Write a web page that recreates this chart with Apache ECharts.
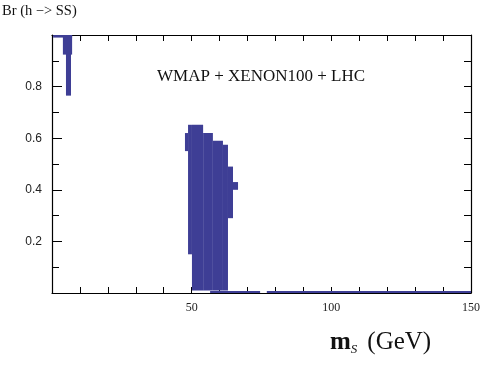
<!DOCTYPE html>
<html>
<head>
<meta charset="utf-8">
<script src="https://cdn.jsdelivr.net/npm/echarts@6/dist/echarts.min.js"></script>
<style>
  html, body { margin: 0; padding: 0; background: #fff; }
  #chart { width: 484px; height: 365px; }
</style>
</head>
<body>
<div id="chart"></div>
<script>
// filled regions of the scan (m_S in GeV, Br)
var xFrom = [0.4, 3.9, 5.0, 47.6, 48.7, 50.1, 54.1, 57.6, 61.2, 63.0, 64.8, 56.6, 76.9];
var xTo   = [7.2, 7.2, 6.8, 48.7, 50.1, 54.1, 57.6, 61.2, 63.0, 64.8, 66.6, 74.5, 150];
var yFrom = [0.99, 0.924, 0.765, 0.55, 0.15, 0.01, 0.01, 0.01, 0.01, 0.29, 0.40, 0.0, 0.0];
var yTo   = [1.0, 1.0, 1.0, 0.62, 0.652, 0.652, 0.62, 0.59, 0.575, 0.49, 0.43, 0.008, 0.008];

var xTicks = [50, 100, 150];
var yTicks = [0.2, 0.4, 0.6, 0.8];

(function () {
  var dom = document.getElementById('chart');
  var myChart = echarts.init(dom);

  var blocks = [];
  for (var i = 0; i < xFrom.length; i++) {
    blocks.push([xFrom[i], xTo[i], yFrom[i], yTo[i]]);
  }

  var serif = 'Liberation Serif';
  var sans = 'Liberation Sans';
  var line = { color: '#000', width: 1.2 };

  var option = {
    backgroundColor: '#fff',
    animation: false,
    grid: { left: 52, right: 13, top: 35, bottom: 72 },
    xAxis: [
      {
        type: 'value', min: 0, max: 150, interval: 50,
        axisLine: { onZero: false, lineStyle: line },
        axisTick: { inside: true, length: 6, lineStyle: { color: '#000' } },
        minorTick: { show: true, splitNumber: 5, length: 6, lineStyle: { color: '#000' } },
        splitLine: { show: false },
        axisLabel: {
          margin: 9, fontFamily: serif, fontSize: 12, color: '#222',
          formatter: function (v) { return xTicks.indexOf(v) >= 0 ? String(v) : ''; }
        }
      },
      {
        type: 'value', position: 'top', min: 0, max: 150, interval: 10,
        axisLine: { show: true, onZero: false, lineStyle: line },
        axisTick: { show: true, inside: true, length: 6, lineStyle: { color: '#000' } },
        splitLine: { show: false },
        axisLabel: { show: false }
      }
    ],
    yAxis: [
      {
        type: 'value', min: 0, max: 1, interval: 0.2,
        axisLine: { show: true, onZero: false, lineStyle: line },
        axisTick: { show: true, inside: true, length: 10, lineStyle: { color: '#000' } },
        minorTick: { show: true, splitNumber: 2, length: 7, lineStyle: { color: '#000' } },
        splitLine: { show: false },
        axisLabel: {
          margin: 10, fontFamily: sans, fontSize: 12, color: '#222',
          formatter: function (v) {
            for (var k = 0; k < yTicks.length; k++) {
              if (Math.abs(yTicks[k] - v) < 1e-6) return yTicks[k].toFixed(1);
            }
            return '';
          }
        }
      },
      {
        type: 'value', position: 'right', min: 0, max: 1, interval: 0.1,
        axisLine: { show: true, onZero: false, lineStyle: line },
        axisTick: { show: true, inside: true, length: 7, lineStyle: { color: '#000' } },
        splitLine: { show: false },
        axisLabel: { show: false }
      }
    ],
    graphic: [
      {
        type: 'text', left: 2, top: 4,
        style: { text: 'Br (h \u2212> SS)', font: '14.5px "Liberation Serif"', fill: '#111' }
      },
      {
        type: 'text', left: 157, top: 68,
        style: { text: 'WMAP + XENON100 + LHC', font: '17px "Liberation Serif"', fill: '#111' }
      },
      {
        type: 'text', left: 330, top: 330,
        style: {
          text: '{m|m}{s|S}   {g|(GeV)}',
          fill: '#111',
          rich: {
            m: { fontFamily: serif, fontSize: 25, fontWeight: 'bold', fill: '#111' },
            s: { fontFamily: serif, fontSize: 13, fontStyle: 'italic', fill: '#111', padding: [14, 0, 0, 0] },
            g: { fontFamily: serif, fontSize: 25, fill: '#111' }
          }
        }
      }
    ],
    series: [
      {
        type: 'custom',
        xAxisIndex: 0, yAxisIndex: 0,
        data: blocks,
        clip: true,
        renderItem: function (params, api) {
          var p0 = api.coord([api.value(0), api.value(3)]);
          var p1 = api.coord([api.value(1), api.value(2)]);
          return {
            type: 'rect',
            shape: { x: p0[0], y: p0[1], width: Math.max(p1[0] - p0[0], 1), height: Math.max(p1[1] - p0[1], 2) },
            style: { fill: '#3e3e95' }
          };
        }
      }
    ]
  };

  myChart.setOption(option, true);
})();
</script>
</body>
</html>
